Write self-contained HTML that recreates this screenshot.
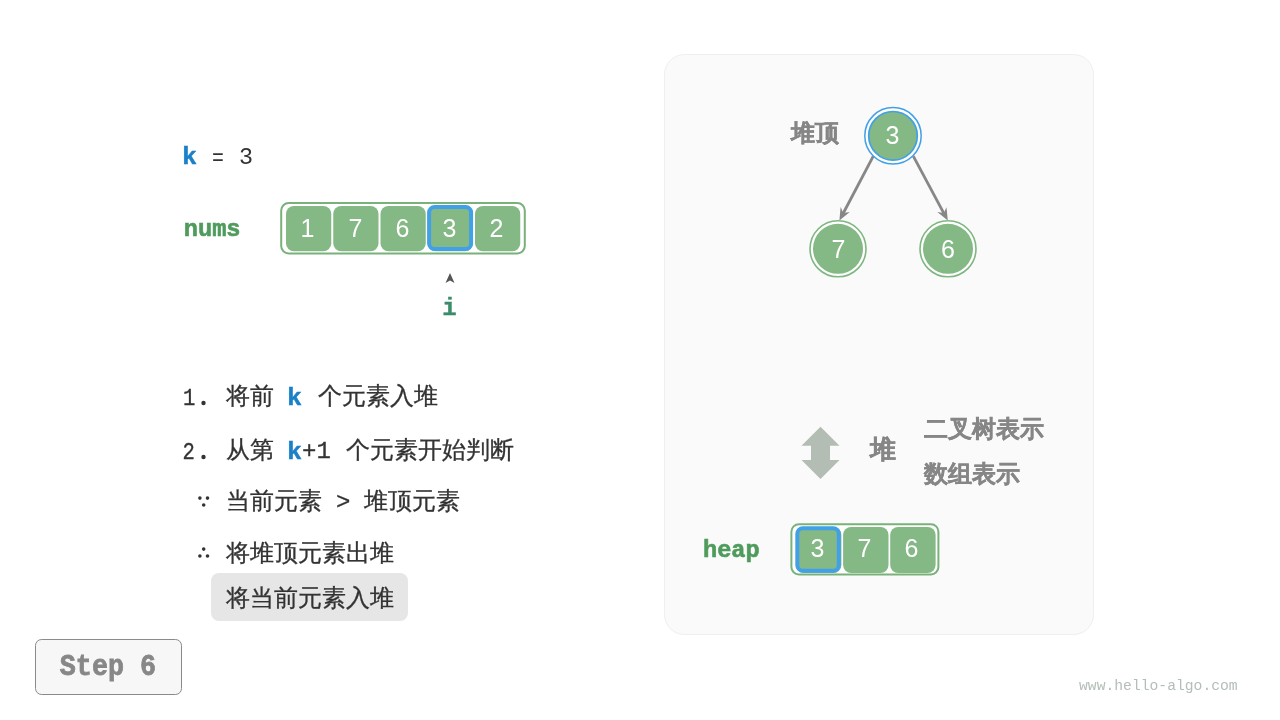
<!DOCTYPE html>
<html><head><meta charset="utf-8">
<style>
html,body{margin:0;padding:0;background:#fff;width:1280px;height:720px;overflow:hidden}
svg{display:block;will-change:transform}
.mono{font-family:"Liberation Mono",monospace}
.sans{font-family:"Liberation Sans",sans-serif}
</style></head><body>
<svg width="1280" height="720" viewBox="0 0 1280 720">
<rect x="0" y="0" width="1280" height="720" fill="#ffffff"/>

<!-- right panel -->
<rect x="664.5" y="54.5" width="429" height="580" rx="20" ry="20" fill="#fafafa" stroke="#efefef" stroke-width="1"/>

<!-- k = 3 -->
<text class="sans" x="182.5" y="163.7" font-size="24.5" font-weight="bold" fill="#1a80c8" stroke="#1a80c8" stroke-width="0.5">k</text>
<text class="mono" transform="translate(218,164.5) scale(0.85,1)" text-anchor="middle" font-size="23.33" fill="#333333">=</text>
<text class="mono" x="239" y="163.8" font-size="23.33" fill="#333333">3</text>

<!-- nums label -->
<text class="mono" transform="translate(183.8,236) scale(0.985,1.03)" font-size="24" font-weight="bold" fill="#4e9b5c" stroke="#4e9b5c" stroke-width="0.6">nums</text>

<!-- nums array -->
<rect x="281.2" y="203" width="243.6" height="50.5" rx="7.5" ry="7.5" fill="#ffffff" stroke="#78b27a" stroke-width="2"/>
<g fill="#84b885">
<rect x="286" y="206" width="45.25" height="45.25" rx="8"/>
<rect x="333.25" y="206" width="45.25" height="45.25" rx="8"/>
<rect x="380.5" y="206" width="45.25" height="45.25" rx="8"/>
<rect x="427.75" y="206" width="45.25" height="45.25" rx="8"/>
<rect x="475" y="206" width="45.25" height="45.25" rx="8"/>
</g>
<rect x="429.1" y="207" width="42" height="42" rx="5.5" fill="none" stroke="#42a0e6" stroke-width="4"/>
<g class="sans" font-size="25" fill="#ffffff" text-anchor="middle">
<text x="307.5" y="237">1</text>
<text x="355.5" y="237">7</text>
<text x="402.5" y="237">6</text>
<text x="449.5" y="237">3</text>
<text x="496.5" y="237">2</text>
</g>

<!-- pointer -->
<path d="M450 273 L454.5 283 L450 280.5 L445.5 283 Z" fill="#555555"/>
<text class="mono" x="449.5" y="315" font-size="24" font-weight="bold" fill="#3b8c6a" stroke="#3b8c6a" stroke-width="0.3" text-anchor="middle">i</text>

<!-- steps text -->
<g font-size="24" fill="#333333" stroke="#333333" stroke-width="0.3">
<text class="mono" transform="translate(183,405) scale(0.86,1)">1</text><circle cx="203.5" cy="403" r="2.2" stroke="none"/>
<text class="sans" x="226" y="404">将前</text>
<text class="sans" x="287.5" y="404.5" font-size="24.5" fill="#1a80c8" stroke="#1a80c8" stroke-width="0.5" font-weight="bold">k</text>
<text class="sans" x="317.5" y="404">个元素入堆</text>

<text class="mono" transform="translate(182.5,459) scale(0.86,1)">2</text><circle cx="203.5" cy="457" r="2.2" stroke="none"/>
<text class="sans" x="226" y="458">从第</text>
<text class="sans" x="287.5" y="458.5" font-size="24.5" fill="#1a80c8" stroke="#1a80c8" stroke-width="0.5" font-weight="bold">k</text>
<text class="mono" x="302" y="458">+1</text>
<text class="sans" x="346" y="458">个元素开始判断</text>

<g stroke="none"><circle cx="199.9" cy="498.1" r="1.8"/><circle cx="207.5" cy="498.1" r="1.8"/><circle cx="203.7" cy="505" r="1.8"/></g>
<text class="sans" x="226" y="509">当前元素</text>
<text class="mono" x="336" y="509">&gt;</text>
<text class="sans" x="364" y="509">堆顶元素</text>

<g stroke="none"><circle cx="203.7" cy="549.1" r="1.8"/><circle cx="199.9" cy="556" r="1.8"/><circle cx="207.5" cy="556" r="1.8"/></g>
<text class="sans" x="226" y="561">将堆顶元素出堆</text>
</g>
<rect x="211" y="573" width="197" height="48" rx="8" fill="#e6e6e6"/>
<text class="sans" x="226" y="606" font-size="24" fill="#333333" stroke="#333333" stroke-width="0.3">将当前元素入堆</text>

<!-- step button -->
<rect x="35.5" y="639.5" width="146" height="55" rx="6" fill="#f7f7f7" stroke="#8a8a8a" stroke-width="1"/>
<text class="mono" transform="translate(59.8,675.4) scale(0.99,1.1)" font-size="27" font-weight="bold" fill="#878787" stroke="#878787" stroke-width="0.7">Step 6</text>

<!-- tree -->
<line x1="873.3" y1="156.1" x2="843.12" y2="213.52" stroke="#878787" stroke-width="2.8"/>
<path transform="translate(839.4,220.6) rotate(117.73)" d="M0 0 L-12.5 -5.2 L-8.5 0 L-12.5 5.2 Z" fill="#878787"/>
<line x1="913.3" y1="156.1" x2="944.03" y2="213.55" stroke="#878787" stroke-width="2.8"/>
<path transform="translate(947.8,220.6) rotate(61.86)" d="M0 0 L-12.5 -5.2 L-8.5 0 L-12.5 5.2 Z" fill="#878787"/>
<circle cx="893" cy="135.8" r="28.2" fill="#ffffff" stroke="#42a0e6" stroke-width="1.5"/>
<circle cx="893" cy="135.8" r="24.3" fill="#84b885" stroke="#42a0e6" stroke-width="1.7"/>
<circle cx="838" cy="248.8" r="28" fill="#ffffff" stroke="#7fb780" stroke-width="1.6"/>
<circle cx="838" cy="248.8" r="25" fill="#84b885"/>
<circle cx="948" cy="248.8" r="28" fill="#ffffff" stroke="#7fb780" stroke-width="1.6"/>
<circle cx="948" cy="248.8" r="25" fill="#84b885"/>
<g class="sans" font-size="25" fill="#ffffff" text-anchor="middle">
<text x="892.5" y="144">3</text>
<text x="838.5" y="257.5">7</text>
<text x="948" y="257.5">6</text>
</g>
<text class="sans" x="790.5" y="141" font-size="24" font-weight="bold" fill="#868686" stroke="#868686" stroke-width="0.3">堆顶</text>

<!-- double arrow -->
<path d="M820.5 426.7 L839.5 445.8 L830 445.8 L830 460 L839.5 460 L820.5 479 L801.5 460 L811 460 L811 445.8 L801.5 445.8 Z" fill="#b3bdb3"/>
<text class="sans" x="869.5" y="458" font-size="26" font-weight="bold" fill="#868686" stroke="#868686" stroke-width="0.3">堆</text>
<text class="sans" x="924" y="437" font-size="24" font-weight="bold" fill="#868686" stroke="#868686" stroke-width="0.3">二叉树表示</text>
<text class="sans" x="924" y="482" font-size="24" font-weight="bold" fill="#868686" stroke="#868686" stroke-width="0.3">数组表示</text>

<!-- heap -->
<text class="mono" transform="translate(703,557) scale(0.985,1.03)" font-size="24" font-weight="bold" fill="#4e9b5c" stroke="#4e9b5c" stroke-width="0.6">heap</text>
<rect x="791.4" y="524.2" width="147" height="50.2" rx="7.5" ry="7.5" fill="#ffffff" stroke="#78b27a" stroke-width="2"/>
<g fill="#84b885">
<rect x="796" y="527" width="45.4" height="46" rx="8"/>
<rect x="843.1" y="527" width="45.4" height="46" rx="8"/>
<rect x="890.2" y="527" width="45.4" height="46" rx="8"/>
</g>
<rect x="797.3" y="528.3" width="41.5" height="42.5" rx="5.5" fill="none" stroke="#42a0e6" stroke-width="4"/>
<g class="sans" font-size="25" fill="#ffffff" text-anchor="middle">
<text x="817.5" y="557">3</text>
<text x="864.5" y="557">7</text>
<text x="911.5" y="557">6</text>
</g>

<!-- watermark -->
<text class="mono" x="1079" y="690" font-size="14.7" fill="#b4beb8">www.hello-algo.com</text>
</svg>
</body></html>
